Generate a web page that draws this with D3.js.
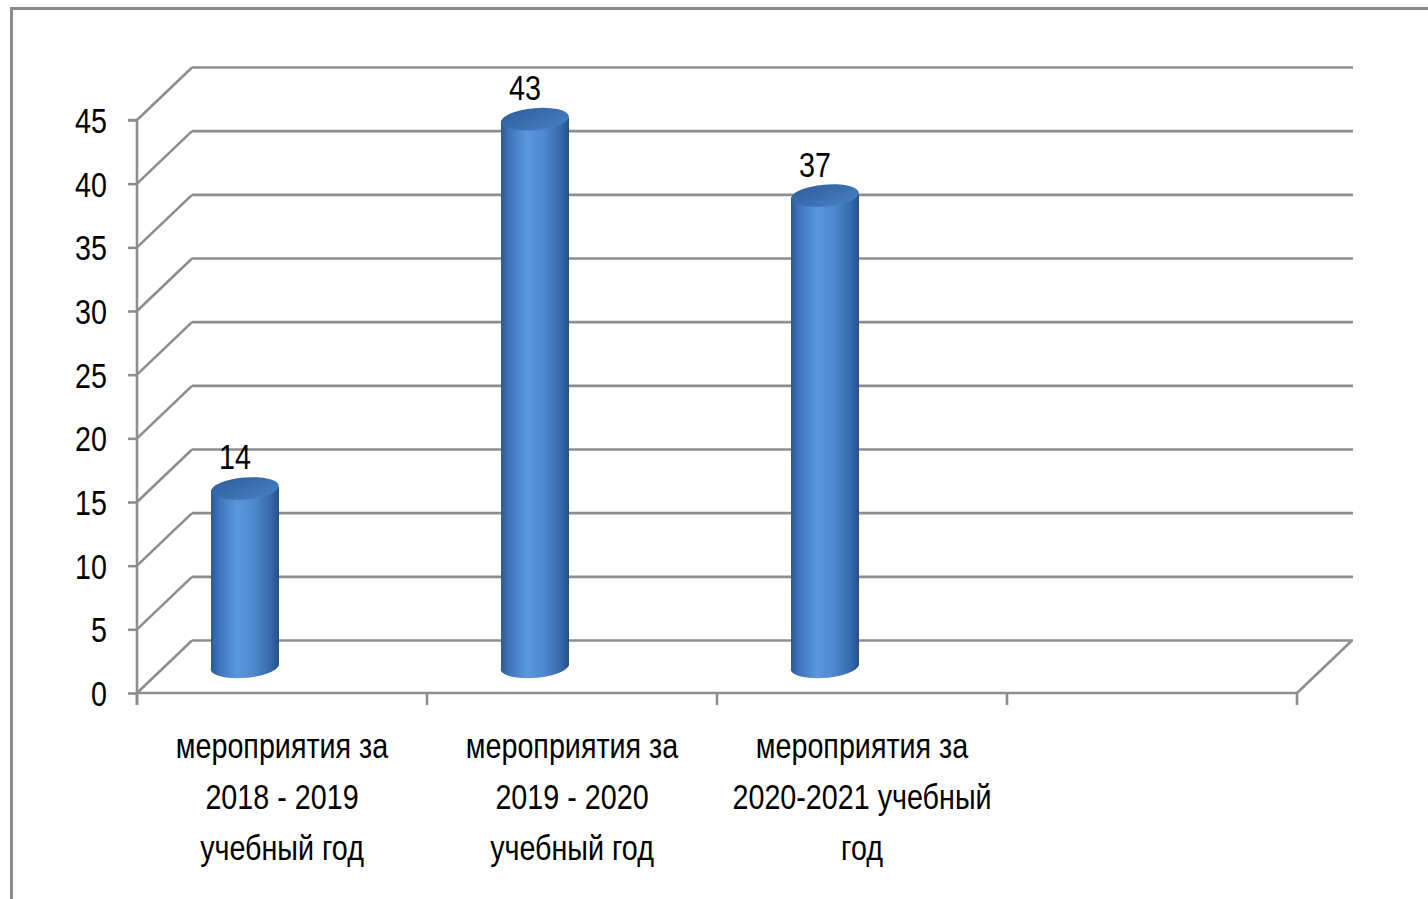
<!DOCTYPE html>
<html>
<head>
<meta charset="utf-8">
<script src="https://cdn.jsdelivr.net/npm/d3@7"></script>
<style>
  html, body { margin: 0; padding: 0; background: #fff; }
  svg { display: block; }
  text { font-family: "Liberation Sans", Arial, sans-serif; fill: #000; }
</style>
</head>
<body>
<svg id="chart" width="1428" height="899"></svg>
<script>
// ---- data ----
const categories = [
  ["мероприятия за", "2018 - 2019", "учебный год"],
  ["мероприятия за", "2019 - 2020", "учебный год"],
  ["мероприятия за", "2020-2021 учебный", "год"],
  [""]
];
const values = [14, 43, 37, null];
const yTicks = [0, 5, 10, 15, 20, 25, 30, 35, 40, 45];

// ---- layout ----
const svg = d3.select("#chart");
const W = 1428, H = 899;
const fx0 = 137, fx1 = 1297;      // front floor x extent
const depthX = 55, depthY = -52.5; // 3D depth offset
const gridColor = "#8e8e8e";
const FS = 35, SX = 0.82;          // font size and horizontal condensing

const x = d3.scaleBand().domain(d3.range(categories.length)).range([fx0, fx1]).padding(0);
const y = d3.scaleLinear().domain([0, 45]).range([693, 120]);

// outer frame (left & top visible)
svg.append("path")
  .attr("d", `M11.5,${H + 5} L11.5,8.5 L${W + 5},8.5`)
  .attr("fill", "none").attr("stroke", "#8a8a8a").attr("stroke-width", 3);

const grid = svg.append("g").attr("stroke", gridColor).attr("stroke-width", 2.6).attr("fill", "none");

// back wall horizontals
grid.selectAll("line.back").data(yTicks).join("line")
  .attr("x1", fx0 + depthX).attr("x2", fx1 + depthX + 1)
  .attr("y1", d => y(d) + depthY).attr("y2", d => y(d) + depthY);

// side wall diagonals
grid.selectAll("line.side").data(yTicks).join("line")
  .attr("x1", fx0).attr("y1", d => y(d))
  .attr("x2", fx0 + depthX).attr("y2", d => y(d) + depthY);

// floor: front edge and right diagonal
grid.append("line").attr("x1", fx0).attr("x2", fx1).attr("y1", y(0)).attr("y2", y(0));
grid.append("line").attr("x1", fx1).attr("y1", y(0)).attr("x2", fx1 + depthX).attr("y2", y(0) + depthY);

// y axis (front vertical)
const yAxis = d3.axisLeft(y).tickValues(yTicks).tickSize(9).tickPadding(0);
const gy = svg.append("g").attr("transform", `translate(${fx0},0)`).call(yAxis);
gy.select(".domain").attr("stroke", gridColor).attr("stroke-width", 2.6).attr("d", `M-9,${y(45)}H0V${y(0) + 12}`);
gy.selectAll(".tick line").attr("stroke", gridColor).attr("stroke-width", 2.6);
gy.selectAll(".tick text")
  .attr("font-size", FS).attr("dy", "0.36em")
  .attr("x", -30 / SX)
  .attr("transform", `scale(${SX},1)`)
  .style("font-family", '"Liberation Sans", Arial, sans-serif');

// x axis ticks (band boundaries)
const xBounds = d3.range(categories.length + 1).map(i => fx0 + i * x.bandwidth());
svg.append("g").selectAll("line").data(xBounds).join("line")
  .attr("x1", d => d).attr("x2", d => d)
  .attr("y1", y(0)).attr("y2", y(0) + 12)
  .attr("stroke", gridColor).attr("stroke-width", 2.6);

// category labels
const lab = svg.append("g");
categories.forEach((lines, i) => {
  const cx = x(i) + x.bandwidth() / 2;
  const t = lab.append("text")
    .attr("text-anchor", "middle")
    .attr("font-size", FS)
    .attr("transform", `translate(${cx},758) scale(${SX},1)`);
  lines.forEach((ln, j) => {
    t.append("tspan").attr("x", 0).attr("y", j * 51).text(ln);
  });
});

// cylinder gradients
const defs = svg.append("defs");
const sideGrad = defs.append("linearGradient").attr("id", "cylSide").attr("x1", "0%").attr("x2", "100%").attr("y1", "0%").attr("y2", "0%");
[["0%", "#2b5a96"], ["12%", "#3d74bb"], ["38%", "#5b97dc"], ["62%", "#4f89cf"], ["88%", "#3569ad"], ["100%", "#264f86"]]
  .forEach(([o, c]) => sideGrad.append("stop").attr("offset", o).attr("stop-color", c));
const topGrad = defs.append("linearGradient").attr("id", "cylTop").attr("x1", "0%").attr("x2", "100%").attr("y1", "0%").attr("y2", "100%");
[["0%", "#2f5f9c"], ["50%", "#3a6eb1"], ["100%", "#4a82c6"]]
  .forEach(([o, c]) => topGrad.append("stop").attr("offset", o).attr("stop-color", c));

// bars (cylinders)
const barW = 68, ry = 11, tilt = -5;
const barShift = -37; // horizontal placement of bar inside its band
const bars = svg.append("g");
values.forEach((v, i) => {
  if (v == null) return;
  const cx = x(i) + x.bandwidth() / 2 + barShift;
  const yb = y(0) + depthY / 2;
  const yt = y(v) + depthY / 2;
  const rx = barW / 2;
  const g = bars.append("g");
  g.append("path")
    .attr("d", `M${cx - rx},${yt + 1.5} L${cx - rx},${yb + 1.5} A${rx},${ry} ${tilt} 0 0 ${cx + rx},${yb - 1.5} L${cx + rx},${yt - 1.5} Z`)
    .attr("fill", "url(#cylSide)");
  g.append("ellipse")
    .attr("cx", cx).attr("cy", yt).attr("rx", rx).attr("ry", ry)
    .attr("transform", `rotate(${tilt},${cx},${yt})`)
    .attr("fill", "url(#cylTop)");
  svg.append("text")
    .attr("text-anchor", "middle")
    .attr("font-size", FS)
    .attr("transform", `translate(${cx - 10},${yt - 19}) scale(${SX},1)`)
    .text(v);
});
</script>
</body>
</html>
